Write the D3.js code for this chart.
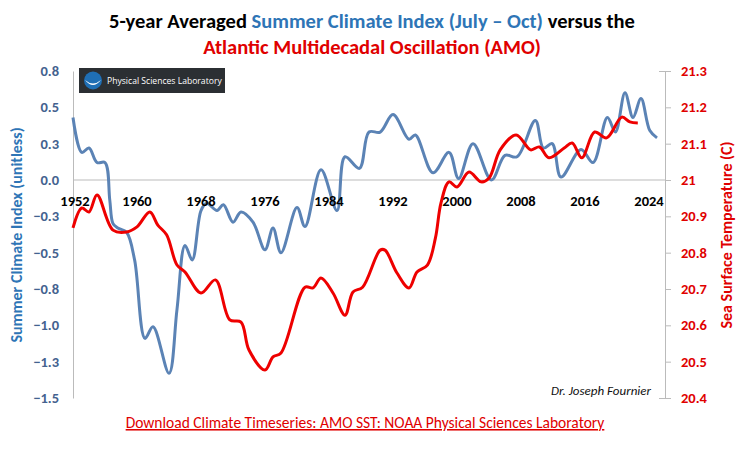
<!DOCTYPE html>
<html><head><meta charset="utf-8">
<script src="https://cdn.jsdelivr.net/npm/d3@7"></script>
<style>body{margin:0;background:#fff;font-family:Calibri,"Open Sans",sans-serif;}</style>
</head><body><div class="chart"></div>
<script>
var blueYears = [1952,1953.1,1954,1955,1956,1956.6,1957,1957.6,1958.7,1959.7,1961,1962,1964,1965,1966,1966.9,1968,1968.7,1970,1970.8,1972,1973,1974.5,1976,1977,1978,1980,1981,1983,1985,1986,1987.8,1989,1990.4,1992,1994,1994.8,1997,1999,2000.2,2002,2004.3,2006,2007.5,2009.8,2010.8,2011.9,2013,2015.5,2017,2018.8,2019.8,2021,2022,2023,2024.1,2025];
var blueValues = [0.43,0.19,0.22,0.12,0.12,-0.14,-0.30,-0.33,-0.36,-0.55,-1.09,-1.01,-1.33,-0.89,-0.45,-0.55,-0.21,-0.16,-0.21,-0.17,-0.29,-0.22,-0.29,-0.48,-0.33,-0.50,-0.19,-0.32,0.07,-0.21,0.16,0.08,0.33,0.33,0.45,0.28,0.31,0.05,0.19,0.01,0.25,0.0,0.17,0.16,0.41,0.22,0.25,0.02,0.21,0.12,0.43,0.33,0.60,0.43,0.56,0.34,0.29];
var redYears = [1952,1953.1,1954,1955,1957,1958.7,1960,1961.6,1962.6,1963.7,1965,1966,1968,1969.8,1971.6,1973,1974,1976,1977,1978,1981,1982,1983,1984.5,1986,1987,1988.2,1990.4,1991,1992.5,1994,1995,1996.3,1997.3,1998,1999,2000,2001.5,2003,2004,2005.4,2007.4,2009.2,2010.3,2011.5,2013.4,2014.4,2015.6,2017.2,2018.7,2020.6,2021.6,2022.6];
var redValues = [20.868,20.923,20.912,20.959,20.862,20.857,20.871,20.912,20.876,20.849,20.766,20.747,20.689,20.725,20.615,20.609,20.532,20.477,20.513,20.524,20.705,20.703,20.730,20.689,20.628,20.692,20.705,20.807,20.807,20.744,20.703,20.747,20.766,20.840,20.937,20.995,20.981,21.022,20.995,21.005,21.083,21.124,21.083,21.091,21.061,21.088,21.102,21.061,21.132,21.116,21.173,21.160,21.157];
var yearTicks = [1952,1960,1968,1976,1984,1992,2000,2008,2016,2024];
var leftTicks = [0.75,0.5,0.25,0,-0.25,-0.5,-0.75,-1,-1.25,-1.5];
var rightTicks = [21.3,21.2,21.1,21,20.9,20.8,20.7,20.6,20.5,20.4];

var svgWidth = 742, svgHeight = 449;
var margin = {top: 71, right: 77, bottom: 51, left: 73};
var width = svgWidth - margin.left - margin.right;
var height = svgHeight - margin.top - margin.bottom;

var svg = d3.select(".chart").append("svg")
  .attr("width", svgWidth).attr("height", svgHeight);

// title
var title = svg.append("g").attr("font-weight", "bold").attr("font-size", 20.5).attr("text-anchor", "middle");
var t1 = title.append("text").attr("x", 372).attr("y", 28);
t1.append("tspan").attr("fill", "#000").text("5-year Averaged ");
t1.append("tspan").attr("fill", "#2e75b6").text("Summer Climate Index (July – Oct)");
t1.append("tspan").attr("fill", "#000").text(" versus the");
title.append("text").attr("x", 372).attr("y", 54).attr("fill", "#e00000").text("Atlantic Multidecadal Oscillation (AMO)");

var chartGroup = svg.append("g").attr("transform", `translate(${margin.left}, ${margin.top})`);

var x = d3.scaleLinear().domain([1952, 2026]).range([0, width]);
var yLeft = d3.scaleLinear().domain([-1.5, 0.75]).range([height, 0]);
var yRight = d3.scaleLinear().domain([20.4, 21.3]).range([height, 0]);

// left axis
var leftAxis = d3.axisLeft(yLeft).tickValues(leftTicks).tickSize(0).tickPadding(14).tickFormat(d3.format(".1f"));
var gl = chartGroup.append("g").call(leftAxis);
gl.select(".domain").attr("stroke", "#bbb");
gl.selectAll("text").attr("fill", "#44628f").attr("font-size", 14.5).attr("font-weight", "bold")
  .attr("font-family", "Calibri,'Open Sans',sans-serif");

// right axis
var rightAxis = d3.axisRight(yRight).tickValues(rightTicks).tickSize(-6).tickPadding(16).tickFormat(d => d3.format("")(+d.toFixed(1)));
var gr = chartGroup.append("g").attr("transform", `translate(${width},0)`).call(rightAxis);
gr.select(".domain").attr("stroke", "#bbb");
gr.selectAll("line").attr("stroke", "#bbb").attr("transform", "translate(6,0)");
gr.selectAll("text").attr("fill", "#e00000").attr("font-size", 14.5).attr("font-weight", "bold")
  .attr("font-family", "Calibri,'Open Sans',sans-serif");

// zero line
chartGroup.append("line").attr("x1", 0).attr("x2", width)
  .attr("y1", yLeft(0)).attr("y2", yLeft(0)).attr("stroke", "#bbb");

// lines
var blueLine = d3.line().x((d, i) => x(blueYears[i])).y(d => yLeft(d)).curve(d3.curveCatmullRom);
var redLine = d3.line().x((d, i) => x(redYears[i])).y(d => yRight(d)).curve(d3.curveCatmullRom);
chartGroup.append("path").datum(blueValues).attr("d", blueLine)
  .attr("fill", "none").attr("stroke", "#5b83b5").attr("stroke-width", 3);
chartGroup.append("path").datum(redValues).attr("d", redLine)
  .attr("fill", "none").attr("stroke", "#ee0000").attr("stroke-width", 3);

// year labels on top of lines
chartGroup.selectAll(".yr").data(yearTicks).enter().append("text")
  .attr("x", d => x(d) + (d === 1952 ? 2 : 0)).attr("y", yLeft(0) + 26)
  .attr("text-anchor", "middle").attr("font-size", 14.5).attr("font-weight", "bold")
  .text(d => d);

// axis titles
svg.append("text").attr("transform", "translate(22,235) rotate(-90)").attr("text-anchor", "middle")
  .attr("fill", "#2e75b6").attr("font-weight", "bold").attr("font-size", 16).text("Summer Climate Index (unitless)");
svg.append("text").attr("transform", "translate(732,235) rotate(-90)").attr("text-anchor", "middle")
  .attr("fill", "#e00000").attr("font-weight", "bold").attr("font-size", 16).text("Sea Surface Temperature (C)");

// logo
var logo = svg.append("g").attr("transform", "translate(79,68)");
logo.append("rect").attr("width", 146).attr("height", 25).attr("fill", "#2b2f33");
logo.append("circle").attr("cx", 14).attr("cy", 12.5).attr("r", 9).attr("fill", "#1f6fb5");
logo.append("path").attr("d", "M6,12 Q14,22 22,12 Q14,19 6,12Z").attr("fill", "#fff");
logo.append("text").attr("x", 28).attr("y", 16).attr("fill", "#fff").attr("font-size", 8.6)
  .attr("font-family", "'Open Sans',sans-serif").text("Physical Sciences Laboratory");

// credits
svg.append("text").attr("x", 651).attr("y", 395).attr("text-anchor", "end").attr("font-style", "italic")
  .attr("font-size", 13).attr("fill", "#111").text("Dr. Joseph Fournier");
svg.append("text").attr("x", 365).attr("y", 428).attr("text-anchor", "middle").attr("font-size", 15.5)
  .attr("fill", "#e00000").attr("text-decoration", "underline")
  .text("Download Climate Timeseries: AMO SST: NOAA Physical Sciences Laboratory");
</script></body></html>
